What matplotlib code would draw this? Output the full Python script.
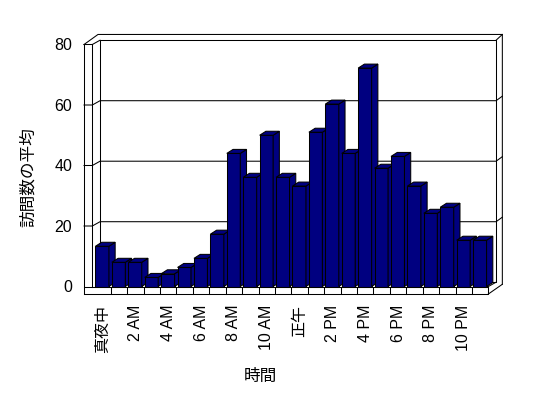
import numpy as np
import matplotlib.pyplot as plt
from matplotlib.patches import Polygon

plt.rcParams['font.family'] = ['Liberation Sans', 'Noto Sans CJK JP']

# 時間帯ごとの訪問数の平均
hours = ["真夜中", "1 AM", "2 AM", "3 AM", "4 AM", "5 AM", "6 AM", "7 AM",
         "8 AM", "9 AM", "10 AM", "11 AM", "正午", "1 PM", "2 PM", "3 PM",
         "4 PM", "5 PM", "6 PM", "7 PM", "8 PM", "9 PM", "10 PM", "11 PM"]
visits = [13.3, 8.0, 8.0, 3.0, 4.2, 6.3, 9.3, 17.3, 44.0, 36.1, 50.0, 36.1,
          33.2, 51.0, 60.3, 44.0, 72.2, 39.1, 43.0, 33.2, 24.2, 26.2, 15.3, 15.3]
y_ticks = [0, 20, 40, 60, 80]

n = len(hours)
ymax = y_ticks[-1]

# 3D風の奥行き (データ単位)
DX, DY = 0.47, 1.42      # 壁の奥行き
BDX, BDY = 0.38, 1.32    # 棒の奥行き
TX, TY = 0.38, 1.9       # 背面の厚み
X_IN, X_OUT = -0.12, -0.625
FLOOR = -2.48
BAR_OFF, BAR_W = 0.07, 0.82
LW = 0.75

fig = plt.figure(figsize=(5.48, 3.98), dpi=100)
ax = fig.add_axes([94.3 / 548, (398 - 286.5) / 398, 16.42 * n / 548, 242 / 398])
ax.set_xlim(0, n)
ax.set_ylim(0, ymax)
for s in ax.spines.values():
    s.set_visible(False)

kw = dict(color='black', lw=LW, clip_on=False, solid_capstyle='projecting')


def line(xs, ys, z=1):
    ax.plot(xs, ys, zorder=z, **kw)


xb = X_IN + DX
xr = n + DX
# 背面の壁
line([xb, xb, xr, xr, xb], [DY, ymax + DY, ymax + DY, DY, DY])
# 目盛線
for v in y_ticks[1:-1]:
    line([X_OUT, X_IN, xb, xr, xr + TX], [v, v, v + DY, v + DY, v + DY + 1.5])
# 上端と外枠
line([X_OUT, X_IN, xb], [ymax, ymax, ymax + DY])
line([X_OUT, xb + X_OUT - X_IN + TX, xr + TX, xr + TX],
     [ymax, ymax + DY + TY, ymax + DY + TY, 0.73])
line([xr, xr + TX], [ymax + DY, ymax + DY + TY])
# 左の壁
line([X_OUT, X_OUT], [FLOOR, ymax])
line([X_IN, X_IN], [0, ymax])
# 床
line([X_OUT, n, n, X_OUT], [FLOOR, FLOOR, 0, 0], z=5)
line([n, xr + TX], [FLOOR, 0.73], z=5)
line([n, xr], [0, DY], z=5)
for i in range(1, n):
    line([i, i], [FLOOR, 0], z=5)

# 棒
for i, v in enumerate(visits):
    x0 = i + BAR_OFF
    x1 = x0 + BAR_W
    faces = [
        [(x0, 0), (x1, 0), (x1, v), (x0, v)],
        [(x1, 0), (x1 + BDX, BDY), (x1 + BDX, v + BDY), (x1, v)],
        [(x0, v), (x1, v), (x1 + BDX, v + BDY), (x0 + BDX, v + BDY)],
    ]
    for f in faces:
        ax.add_patch(Polygon(f, closed=True, facecolor='#000080',
                             edgecolor='black', lw=LW, zorder=3 + i * 0.01,
                             clip_on=False))

ax.set_yticks(y_ticks)
ax.set_yticklabels([str(t) for t in y_ticks])
ax.set_xticks(np.arange(0, n, 2) + 0.5)
ax.set_xticklabels(hours[::2], rotation=90, va='top')
ax.tick_params(axis='y', length=0, pad=16, labelsize=11.5)
ax.tick_params(axis='x', length=0, pad=13, labelsize=11.5)

fig.text(28.3 / 548, 1 - 176.7 / 398, "訪問数の平均", rotation=90,
         ha='center', va='center', fontsize=12)
fig.text(260 / 548, 1 - 376.7 / 398, "時間", ha='center', va='center',
         fontsize=12)

fig.savefig('out.png', dpi=100, facecolor='white')
